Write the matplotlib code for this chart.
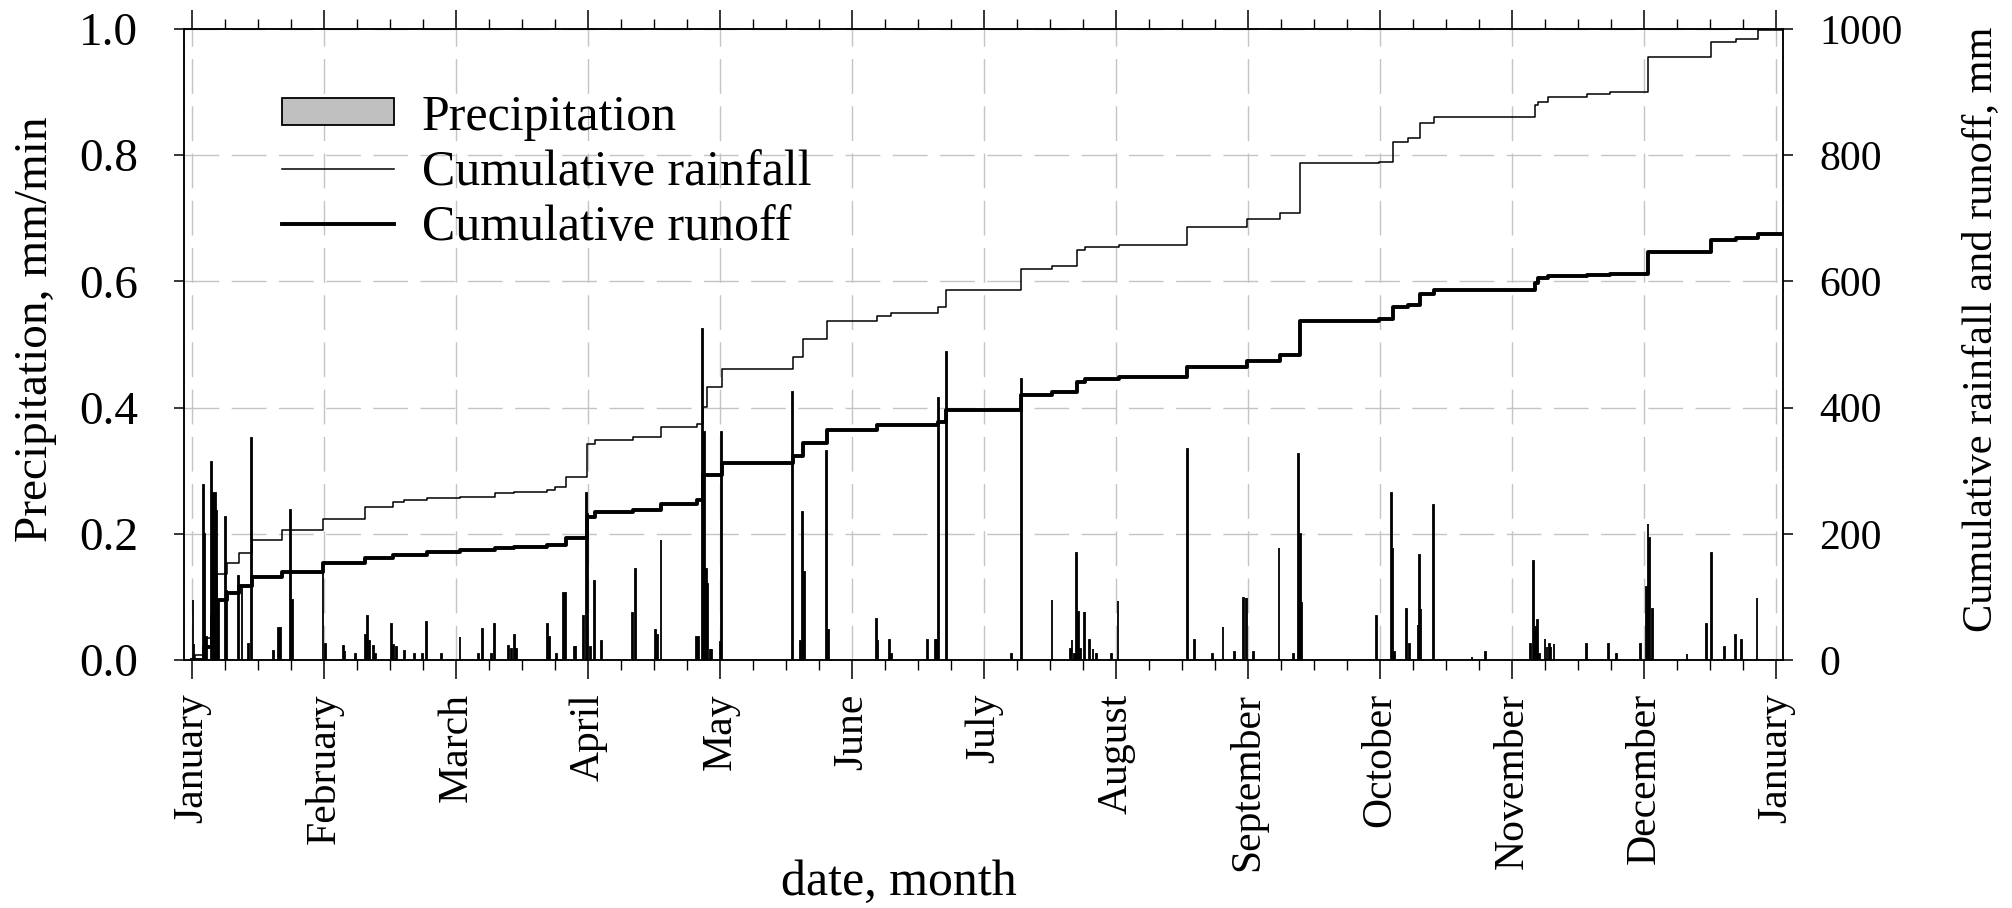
import numpy as np
import matplotlib
matplotlib.use("Agg")
import matplotlib.pyplot as plt
from matplotlib.ticker import MultipleLocator, FixedLocator

plt.rcParams['font.family'] = ['Liberation Serif', 'DejaVu Serif']

# time axis in months from 1 January (0) to next 1 January (12)
month_names = ['January', 'February', 'March', 'April', 'May', 'June', 'July',
               'August', 'September', 'October', 'November', 'December', 'January']

# precipitation intensity events, mm/min
precip_t = [0.005, 0.012, 0.083, 0.09, 0.108, 0.147, 0.160, 0.175, 0.187, 0.197,
            0.253, 0.26, 0.35, 0.375, 0.425, 0.447, 0.614, 0.655, 0.665, 0.745,
            0.758, 0.99, 1.006,
            1.145, 1.157, 1.233, 1.309, 1.324, 1.34, 1.372, 1.385, 1.511, 1.524,
            1.549, 1.607, 1.683, 1.746, 1.774, 1.885, 2.027,
            2.168, 2.196, 2.269, 2.289, 2.395, 2.420, 2.438, 2.458, 2.693, 2.703,
            2.761, 2.812, 2.830, 2.893, 2.906, 2.963, 2.989, 2.996, 3.014, 3.044,
            3.097,
            3.337, 3.358, 3.512, 3.524, 3.550, 3.822, 3.835, 3.863, 3.878, 3.893,
            3.906, 3.923, 3.936, 3.999, 4.012,
            4.547, 4.610, 4.623, 4.638, 4.807, 4.820, 5.184, 5.194, 5.285, 5.295,
            5.573, 5.628, 5.638, 5.653, 5.712,
            6.205, 6.281, 6.513, 6.652, 6.665, 6.683, 6.700, 6.713, 6.728, 6.756,
            6.764, 6.799, 6.824, 6.849, 6.963, 7.013, 7.541, 7.594, 7.731, 7.809,
            7.895, 7.966, 7.983, 7.991, 8.041,
            8.233, 8.344, 8.382, 8.395, 8.407, 8.971, 9.085, 9.097, 9.107, 9.200,
            9.220, 9.287, 9.299, 9.309, 9.405, 9.696, 9.797,
            10.138, 10.163, 10.178, 10.193, 10.208, 10.249, 10.264, 10.282, 10.294,
            10.317, 10.565, 10.731, 10.794, 10.971, 11.019, 11.029, 11.042, 11.065,
            11.325, 11.472, 11.509, 11.610, 11.691, 11.737, 11.855]
precip_v = [0.095, 0.026, 0.277, 0.200, 0.037, 0.314, 0.264, 0.264, 0.237, 0.095,
            0.226, 0.110, 0.133, 0.116, 0.026, 0.352, 0.015, 0.050, 0.050, 0.238,
            0.095, 0.148, 0.026,
            0.022, 0.015, 0.010, 0.040, 0.069, 0.030, 0.022, 0.010, 0.057, 0.024,
            0.020, 0.015, 0.010, 0.010, 0.061, 0.010, 0.036,
            0.010, 0.049, 0.010, 0.057, 0.022, 0.018, 0.040, 0.018, 0.057, 0.037,
            0.010, 0.107, 0.107, 0.020, 0.022, 0.069, 0.264, 0.232, 0.020, 0.125,
            0.030,
            0.074, 0.145, 0.047, 0.040, 0.191, 0.036, 0.036, 0.525, 0.361, 0.145,
            0.120, 0.016, 0.016, 0.029, 0.361,
            0.425, 0.030, 0.235, 0.140, 0.332, 0.047, 0.065, 0.030, 0.031, 0.010,
            0.031, 0.031, 0.031, 0.415, 0.488,
            0.010, 0.445, 0.095, 0.018, 0.031, 0.010, 0.170, 0.076, 0.018, 0.076,
            0.076, 0.031, 0.018, 0.010, 0.010, 0.094, 0.335, 0.031, 0.010, 0.052,
            0.013, 0.099, 0.099, 0.099, 0.013,
            0.178, 0.010, 0.326, 0.200, 0.090, 0.069, 0.264, 0.178, 0.013, 0.081,
            0.026, 0.055, 0.166, 0.081, 0.246, 0.005, 0.013,
            0.026, 0.157, 0.053, 0.064, 0.010, 0.034, 0.020, 0.026, 0.020,
            0.026, 0.026, 0.026, 0.010, 0.026, 0.115, 0.216, 0.193, 0.081,
            0.010, 0.057, 0.170, 0.021, 0.040, 0.031, 0.099]

# cumulative totals, mm (value holds from the given time onwards)
rain_t = [0.0, 0.02, 0.09, 0.15, 0.19, 0.26, 0.35, 0.45, 0.68, 0.99, 1.31, 1.52,
          1.60, 1.78, 2.03, 2.29, 2.44, 2.69, 2.75, 2.83, 2.99, 3.05, 3.34, 3.55,
          3.82, 3.87, 3.90, 4.01, 4.55, 4.63, 4.81, 5.19, 5.29, 5.65, 5.71, 6.28,
          6.51, 6.70, 6.76, 7.02, 7.54, 7.99, 8.24, 8.39, 8.99, 9.10, 9.21, 9.30,
          9.41, 10.17, 10.20, 10.27, 10.57, 10.74, 11.03, 11.51, 11.70, 11.86, 12.06]
rain_c = [0, 8, 35, 100, 137, 154, 170, 191, 206, 224, 243, 250,
          253, 256, 259, 264, 266, 270, 274, 290, 343, 348, 354, 369,
          374, 401, 432, 461, 480, 509, 537, 546, 550, 560, 586, 619,
          624, 650, 655, 658, 686, 699, 709, 787, 790, 821, 828, 851,
          860, 880, 885, 893, 897, 900, 955, 979, 985, 998, 998]

runoff_t = [0.0, 0.09, 0.15, 0.19, 0.26, 0.35, 0.45, 0.68, 0.99, 1.31, 1.52, 1.78,
            2.03, 2.29, 2.44, 2.69, 2.83, 2.99, 3.05, 3.34, 3.55, 3.82, 3.87, 4.01,
            4.55, 4.63, 4.81, 5.19, 5.65, 5.71, 6.28, 6.51, 6.70, 6.76, 7.02, 7.54,
            7.99, 8.24, 8.39, 8.99, 9.10, 9.21, 9.30, 9.41, 10.17, 10.20, 10.27,
            10.57, 10.74, 11.03, 11.51, 11.70, 11.86, 12.06]
runoff_c = [0, 20, 70, 95, 107, 117, 131, 140, 153, 162, 167, 171,
            175, 177, 179, 183, 194, 227, 235, 238, 248, 253, 293, 312,
            324, 344, 365, 372, 378, 397, 420, 425, 440, 446, 448, 464,
            474, 483, 537, 540, 560, 563, 580, 587, 598, 605, 609,
            611, 612, 647, 665, 669, 675, 675]

fig = plt.figure(figsize=(20.12, 9.08), dpi=100)
ax = fig.add_axes([0.0915, 0.2731, 0.7947, 0.6949])
ax2 = ax.twinx()

# precipitation spikes
bars = ax.bar(precip_t, precip_v, width=0.006, facecolor='#c0c0c0',
              edgecolor='black', linewidth=1.3, label='Precipitation', zorder=3)

# cumulative curves on the right axis
l_rain, = ax2.plot(rain_t, rain_c, drawstyle='steps-post', color='black',
                   linewidth=1.1, label='Cumulative rainfall')
l_run, = ax2.plot(runoff_t, runoff_c, drawstyle='steps-post', color='black',
                  linewidth=2.8, label='Cumulative runoff')

ax.set_xlim(-0.063, 12.053)
ax.set_ylim(0, 1.0)
ax2.set_ylim(0, 1000)

# month ticks with weekly minor ticks
ax.xaxis.set_major_locator(FixedLocator(range(13)))
ax.xaxis.set_minor_locator(MultipleLocator(0.25))
ax.set_xticklabels(month_names, rotation=90, fontsize=30)
ax.tick_params(axis='x', which='major', direction='out', length=14, width=1.1,
               top=True, pad=10)
ax.tick_params(axis='x', which='minor', direction='out', length=7, width=1.0,
               top=True)

ax.set_yticks(np.arange(0, 1.01, 0.2))
ax.set_yticklabels([f'{v:.1f}' for v in np.arange(0, 1.01, 0.2)], fontsize=34)
ax.tick_params(axis='y', direction='out', length=7, width=1.1, pad=26)

ax2.set_yticks(np.arange(0, 1001, 200))
ax2.set_yticklabels([str(v) for v in range(0, 1001, 200)], fontsize=30)
ax2.tick_params(axis='y', direction='out', length=7, width=1.1, pad=19)

ax.grid(True, which='major', color='#c4c4c4', linewidth=1.0,
        linestyle=(0, (25, 9)))
ax.set_axisbelow(True)

for spine in list(ax.spines.values()) + list(ax2.spines.values()):
    spine.set_linewidth(1.1)

ax.set_ylabel('Precipitation, mm/min', fontsize=34, va='center')
ax.yaxis.set_label_coords(-0.093, 0.524)
ax2.set_ylabel('Cumulative rainfall and runoff, mm', fontsize=30.5, va='center')
ax2.yaxis.set_label_coords(1.124, 0.524)
ax.set_xlabel('date, month', fontsize=36, va='baseline')
ax.xaxis.set_label_coords(0.447, -0.372)

ax2.legend([bars, l_rain, l_run],
           ['Precipitation', 'Cumulative rainfall', 'Cumulative runoff'],
           loc='upper left', bbox_to_anchor=(0.061, 0.897), frameon=False,
           fontsize=36, handlelength=2.25, handleheight=0.45, handletextpad=0.55,
           labelspacing=0.17, borderpad=0, borderaxespad=0)

fig.savefig('out.png', dpi=100)
